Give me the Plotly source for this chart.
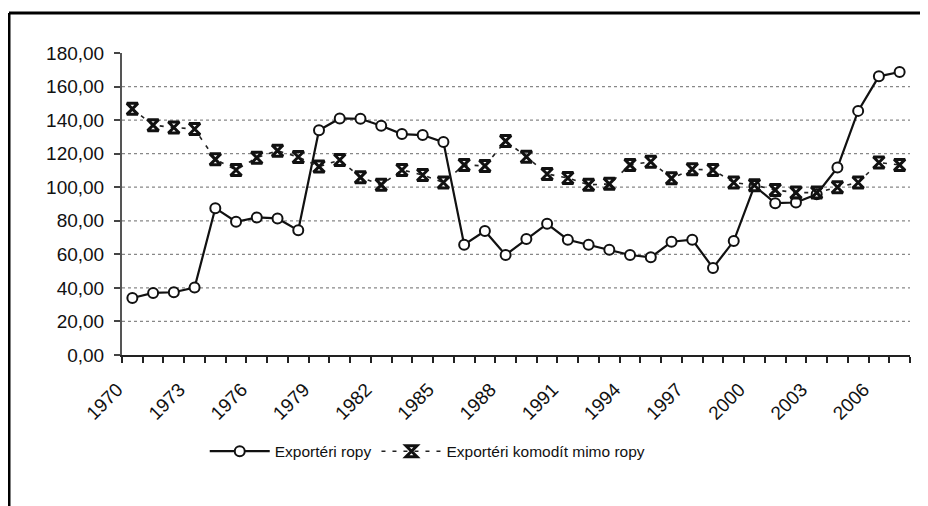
import plotly.graph_objects as go

years = list(range(1970, 2008))
oil_exporters = [
    34.0, 37.0, 37.4, 40.2, 87.5, 79.4, 82.0, 81.4, 74.3, 134.0,
    141.0, 140.8, 136.6, 131.7, 131.1, 126.9, 65.7, 73.9, 59.6, 69.1,
    78.2, 68.7, 65.7, 62.8, 59.6, 58.2, 67.5, 68.7, 51.9, 67.9,
    100.8, 90.5, 90.9, 95.8, 111.7, 145.5, 166.1, 168.7,
]
non_oil_exporters = [
    146.7, 137.0, 135.6, 134.7, 116.6, 110.3, 117.6, 121.8, 118.0, 112.3,
    116.2, 105.9, 101.4, 110.3, 107.3, 102.8, 113.3, 112.7, 127.5, 118.2,
    107.9, 105.5, 101.4, 102.0, 113.3, 115.2, 105.3, 110.7, 110.3, 102.8,
    101.2, 98.4, 96.8, 96.8, 100.0, 102.8, 114.7, 113.3,
]
label_years = list(range(1970, 2007, 3))
y_ticks = list(range(0, 181, 20))
grid_values = y_ticks[1:-1]
names = ["Exportéri ropy", "Exportéri komodít mimo ropy"]

FONT = "Liberation Sans Narrow, Arial Narrow, Liberation Sans, Arial, sans-serif"

fig = go.Figure()
fig.add_trace(go.Scatter(
    x=years, y=oil_exporters, name=names[0], mode="lines+markers",
    line=dict(color="#111111", width=2.2),
    marker=dict(symbol="circle", size=10, color="white",
                line=dict(color="#111111", width=2)),
))
fig.add_trace(go.Scatter(
    x=years, y=non_oil_exporters, name=names[1], mode="lines+markers",
    line=dict(color="#222222", width=1.6, dash="4px,7px"),
    marker=dict(symbol="hourglass-open", size=11, color="#111111",
                line=dict(color="#111111", width=3)),
))

# dotted horizontal grid (no line at the top edge)
for v in grid_values:
    fig.add_shape(type="line", xref="paper", yref="y", x0=0, x1=1, y0=v, y1=v,
                  line=dict(color="#888888", width=1.2, dash="dot"), layer="below")

# frame of the picture (top and left edges visible)
fig.add_shape(type="line", xref="paper", yref="paper", x0=-0.1434, x1=1.05,
              y0=1.1325, y1=1.1325, line=dict(color="black", width=3))
fig.add_shape(type="line", xref="paper", yref="paper", x0=-0.1434, x1=-0.1434,
              y0=1.1325, y1=-0.55, line=dict(color="black", width=3))

fig.update_layout(
    width=920, height=498,
    margin=dict(l=114, r=18, t=45, b=151),
    paper_bgcolor="white", plot_bgcolor="white",
    font=dict(family=FONT, color="#111111"),
    separators=",.",
    showlegend=True,
    legend=dict(orientation="h", x=0.105, xanchor="left", y=-0.32, yanchor="middle",
                font=dict(size=15.5, family=FONT), itemwidth=60,
                bgcolor="rgba(0,0,0,0)"),
)
fig.update_xaxes(
    range=[1969.5, 2007.5], tickmode="array", tickvals=label_years,
    ticktext=[str(y) for y in label_years], tickangle=-45,
    ticks="", showgrid=False, zeroline=False,
    showline=True, linecolor="#222222", linewidth=2,
    tickfont=dict(size=19, family=FONT),
    ticklabelstandoff=14, ticklabelshift=-15,
    minor=dict(tick0=1969.5, dtick=1, ticks="outside", ticklen=6,
               tickcolor="#222222", tickwidth=1.5, showgrid=False),
)
fig.update_yaxes(
    range=[0, 180], tickmode="array", tickvals=y_ticks, tickformat=".2f",
    ticks="outside", ticklen=6, tickcolor="#444444", tickwidth=1.5,
    showgrid=False, zeroline=False,
    showline=True, linecolor="#555555", linewidth=2,
    tickfont=dict(size=19, family=FONT), ticklabelstandoff=6,
)

fig.write_html("out.html")
